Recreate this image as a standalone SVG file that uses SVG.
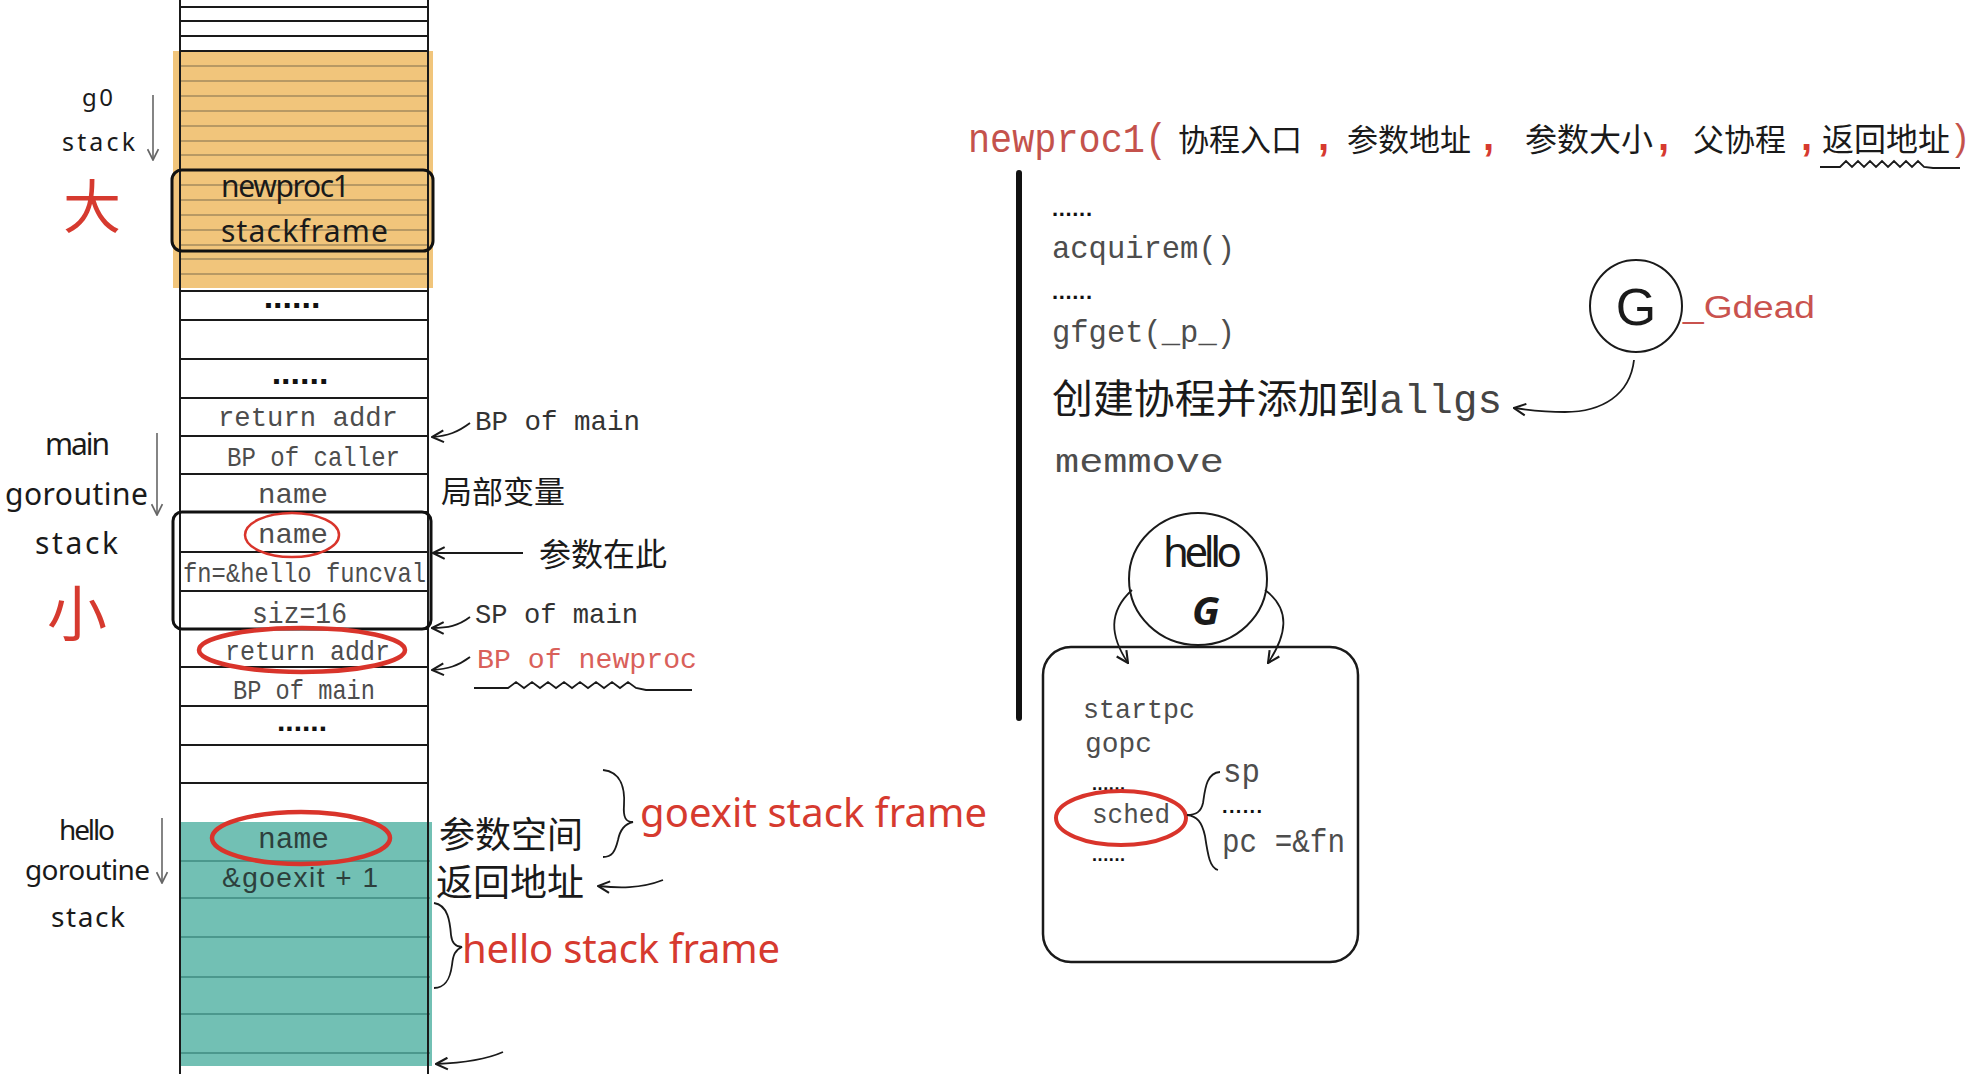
<svg xmlns="http://www.w3.org/2000/svg" width="1982" height="1074" viewBox="0 0 1982 1074">
<style>
.hand{font-family:'Noto Sans','DejaVu Sans',sans-serif;fill:#1a1a1a}
.mono{font-family:'Liberation Mono','DejaVu Sans Mono',monospace;fill:#4d4d4d}
.cjk{font-family:'Noto Sans CJK SC','Noto Sans CJK TC',sans-serif;fill:#1a1a1a}
.red{fill:#d63a2f}
.dots{font-family:'Liberation Sans',sans-serif;font-weight:bold;fill:#111}
.ln{stroke:#1a1a1a;fill:none;stroke-width:2}
.oln{stroke:#7f6e4f;stroke-width:1.2}
.tln{stroke:#3f8b80;stroke-width:1.5}
.conn{stroke:#1a1a1a;fill:none;stroke-width:1.8}
.gray{stroke:#666;fill:none;stroke-width:1.6}
.ell{fill:none;stroke:#d9342b}
.frame{fill:none;stroke:#111;stroke-width:3}
</style>
<defs>
<marker id="ah" viewBox="0 0 12 12" refX="11" refY="6" markerWidth="14" markerHeight="14" markerUnits="userSpaceOnUse" orient="auto"><path d="M1,1 L11,6 L1,11" fill="none" stroke="#1a1a1a" stroke-width="1.8"/></marker>
<marker id="ahg" viewBox="0 0 12 12" refX="11" refY="6" markerWidth="13" markerHeight="13" markerUnits="userSpaceOnUse" orient="auto"><path d="M1,1 L11,6 L1,11" fill="none" stroke="#666" stroke-width="1.6"/></marker>
</defs>
<rect width="1982" height="1074" fill="#fff"/>

<g id="stack-column">
<rect x="173" y="51" width="260" height="237" fill="#f1c57b"/>
<g class="oln">
<line x1="180" y1="66" x2="428" y2="66"/><line x1="180" y1="81" x2="428" y2="81"/><line x1="180" y1="96" x2="428" y2="96"/><line x1="180" y1="111" x2="428" y2="111"/><line x1="180" y1="126" x2="428" y2="126"/><line x1="180" y1="141" x2="428" y2="141"/><line x1="180" y1="155" x2="428" y2="155"/><line x1="180" y1="170" x2="428" y2="170"/><line x1="180" y1="185" x2="428" y2="185"/><line x1="180" y1="200" x2="428" y2="200"/><line x1="180" y1="215" x2="428" y2="215"/><line x1="180" y1="230" x2="428" y2="230"/><line x1="180" y1="245" x2="428" y2="245"/><line x1="180" y1="259" x2="428" y2="259"/><line x1="180" y1="274" x2="428" y2="274"/>
</g>
<rect x="180" y="822" width="252" height="244" fill="#72c0b4"/>
<g class="tln">
<line x1="180" y1="861" x2="430" y2="861"/><line x1="180" y1="898" x2="430" y2="898"/><line x1="180" y1="937" x2="430" y2="937"/><line x1="180" y1="977" x2="430" y2="977"/><line x1="180" y1="1014" x2="430" y2="1014"/><line x1="180" y1="1053" x2="430" y2="1053"/>
</g>
<g class="ln">
<line x1="180" y1="0" x2="180" y2="1074"/><line x1="428" y1="0" x2="428" y2="1074"/>
<line x1="180" y1="7" x2="428" y2="7"/><line x1="180" y1="21" x2="428" y2="21"/><line x1="180" y1="36" x2="428" y2="36"/><line x1="180" y1="51" x2="428" y2="51"/>
<line x1="180" y1="291" x2="428" y2="291"/><line x1="180" y1="320" x2="428" y2="320"/><line x1="180" y1="359" x2="428" y2="359"/><line x1="180" y1="398" x2="428" y2="398"/><line x1="180" y1="436" x2="428" y2="436"/><line x1="180" y1="474" x2="428" y2="474"/><line x1="180" y1="512" x2="428" y2="512"/><line x1="180" y1="552" x2="428" y2="552"/><line x1="180" y1="591" x2="428" y2="591"/><line x1="180" y1="629" x2="428" y2="629"/><line x1="180" y1="667" x2="428" y2="667"/><line x1="180" y1="706" x2="428" y2="706"/><line x1="180" y1="745" x2="428" y2="745"/><line x1="180" y1="783" x2="428" y2="783"/>
</g>
</g>

<g id="newproc1-frame">
<rect class="frame" x="172" y="170" width="261" height="81" rx="10"/>
<text class="hand" x="221" y="197" font-size="30" textLength="129">newproc1</text>
<text class="hand" x="221" y="242" font-size="30" textLength="167">stackframe</text>
</g>

<g id="g0-label">
<text class="hand" x="82" y="106" font-size="24" textLength="31">g0</text>
<text class="hand" x="62" y="151" font-size="25" textLength="73">stack</text>
<text class="cjk red" x="63" y="228" font-size="58">大</text>
</g>

<g id="main-rows">
<text class="dots" x="292" y="308" font-size="34" text-anchor="middle">......</text>
<text class="dots" x="300" y="384" font-size="34" text-anchor="middle">......</text>
<text class="mono" x="218" y="426" font-size="28" textLength="180" lengthAdjust="spacingAndGlyphs">return addr</text>
<text class="mono" x="227" y="466" font-size="28" textLength="173" lengthAdjust="spacingAndGlyphs">BP of caller</text>
<text class="mono" x="258" y="503" font-size="28" textLength="70" lengthAdjust="spacingAndGlyphs">name</text>
</g>

<g id="param-box">
<rect class="frame" x="173" y="512" width="258" height="117" rx="9"/>
<ellipse class="ell" cx="292" cy="535" rx="47" ry="22" stroke-width="2.5"/>
<text class="mono" x="258" y="543" font-size="28" textLength="70" lengthAdjust="spacingAndGlyphs">name</text>
<text class="mono" x="183" y="582" font-size="28" textLength="243" lengthAdjust="spacingAndGlyphs">fn=&amp;hello funcval</text>
<text class="mono" x="252" y="623" font-size="30" textLength="95" lengthAdjust="spacingAndGlyphs">siz=16</text>
</g>

<g id="lower-rows">
<ellipse class="ell" cx="302" cy="650" rx="103" ry="22" stroke-width="4.5"/>
<text class="mono" x="225" y="660" font-size="28" textLength="165" lengthAdjust="spacingAndGlyphs">return addr</text>
<text class="mono" x="233" y="699" font-size="28" textLength="142" lengthAdjust="spacingAndGlyphs">BP of main</text>
<text class="dots" x="302" y="731" font-size="30" text-anchor="middle">......</text>
</g>

<g id="main-label">
<text class="hand" x="45" y="455" font-size="30" textLength="65">main</text>
<text class="hand" x="5" y="505" font-size="30" textLength="143">goroutine</text>
<text class="hand" x="35" y="554" font-size="30" textLength="83">stack</text>
<text class="cjk red" x="47" y="636" font-size="60">小</text>
</g>

<g id="hello-stack">
<ellipse class="ell" cx="301" cy="838" rx="89" ry="26" stroke-width="4.5"/>
<text class="mono" x="258" y="848" font-size="30" textLength="71" lengthAdjust="spacingAndGlyphs" style="fill:#2d3f3c">name</text>
<text x="222" y="887" font-size="28" textLength="156" font-family="'Liberation Sans',sans-serif" fill="#2d3f3c">&amp;goexit + 1</text>
</g>

<g id="hello-label">
<text class="hand" x="59" y="840" font-size="28" textLength="56">hello</text>
<text class="hand" x="25" y="880" font-size="28" textLength="125">goroutine</text>
<text class="hand" x="51" y="927" font-size="28" textLength="74">stack</text>
</g>

<g id="right-labels">
<text class="mono" x="475" y="430" font-size="28" textLength="165" lengthAdjust="spacingAndGlyphs" style="fill:#333">BP of main</text>
<text class="cjk" x="441" y="503" font-size="31">局部变量</text>
<text class="cjk" x="539" y="566" font-size="32">参数在此</text>
<text class="mono" x="475" y="623" font-size="28" textLength="163" lengthAdjust="spacingAndGlyphs" style="fill:#333">SP of main</text>
<text class="mono" x="477" y="668" font-size="28" textLength="220" lengthAdjust="spacingAndGlyphs" style="fill:#d9605a">BP of newproc</text>
<path class="conn" stroke-width="2.5" d="M474,688 L508,688 L516,682 L524,688 L532,682 L540,688 L548,682 L556,688 L564,682 L572,688 L580,682 L588,688 L596,682 L604,688 L612,682 L620,688 L628,682 L636,688 L646,690 L692,690"/>
<text class="cjk" x="439" y="848" font-size="36">参数空间</text>
<text class="cjk" x="436" y="896" font-size="37">返回地址</text>
<text class="hand red" x="640" y="827" font-size="40" textLength="347">goexit stack frame</text>
<text class="hand red" x="462" y="963" font-size="40" textLength="318">hello stack frame</text>
</g>

<g id="header">
<text class="mono" x="968" y="152" font-size="40" textLength="199" lengthAdjust="spacingAndGlyphs" style="fill:#c4524c">newproc1(</text>
<text class="cjk" x="1178" y="151" font-size="31">协程入口</text>
<text class="red" x="1318" y="150" font-size="40" font-family="'Liberation Sans',sans-serif" font-weight="bold">,</text>
<text class="cjk" x="1347" y="151" font-size="31">参数地址</text>
<text class="red" x="1483" y="150" font-size="40" font-family="'Liberation Sans',sans-serif" font-weight="bold">,</text>
<text class="cjk" x="1525" y="151" font-size="32">参数大小</text>
<text class="red" x="1658" y="150" font-size="40" font-family="'Liberation Sans',sans-serif" font-weight="bold">,</text>
<text class="cjk" x="1693" y="151" font-size="31">父协程</text>
<text class="red" x="1801" y="150" font-size="40" font-family="'Liberation Sans',sans-serif" font-weight="bold">,</text>
<text class="cjk" x="1822" y="151" font-size="32">返回地址</text>
<text x="1955" y="150" font-size="36" font-family="'Liberation Sans',sans-serif" fill="#c4524c">)</text>
<path class="conn" stroke-width="2.2" d="M1820,167 L1840,167 L1846,161 L1852,167 L1858,161 L1864,167 L1870,161 L1876,167 L1882,161 L1888,167 L1894,161 L1900,167 L1906,161 L1912,167 L1918,161 L1924,167 L1933,168 L1960,168"/>
</g>

<g id="newproc1-body">
<line x1="1019" y1="173" x2="1019" y2="718" stroke="#111" stroke-width="6" stroke-linecap="round"/>
<text class="dots" x="1052" y="216" font-size="22" textLength="40">......</text>
<text class="mono" x="1052" y="258" font-size="32" textLength="183" lengthAdjust="spacingAndGlyphs">acquirem()</text>
<text class="dots" x="1052" y="299" font-size="22" textLength="40">......</text>
<text class="mono" x="1052" y="342" font-size="32" textLength="183" lengthAdjust="spacingAndGlyphs">gfget(_p_)</text>
<text class="cjk" x="1052" y="413" font-size="40" textLength="450" lengthAdjust="spacingAndGlyphs">创建协程并添加到<tspan font-family="'Liberation Mono',monospace" style="fill:#444">allgs</tspan></text>
<text class="mono" x="1055" y="472" font-size="34" textLength="169" lengthAdjust="spacingAndGlyphs">memmove</text>
</g>

<g id="g-dead">
<circle cx="1636" cy="306" r="46" fill="none" stroke="#1a1a1a" stroke-width="2"/>
<text x="1636" y="325" font-size="52" text-anchor="middle" font-family="'Liberation Sans',sans-serif" fill="#1a1a1a">G</text>
<text x="1683" y="318" font-size="31" textLength="132" lengthAdjust="spacingAndGlyphs" font-family="'Liberation Sans',sans-serif" fill="#c9524e">_Gdead</text>
</g>

<g id="hello-g">
<ellipse cx="1198" cy="579" rx="69" ry="66" fill="none" stroke="#1a1a1a" stroke-width="2"/>
<text class="hand" x="1163" y="567" font-size="42" textLength="79">hello</text>
<text class="hand" x="1192" y="625" font-size="40" font-style="italic" font-weight="bold">G</text>
</g>

<g id="g-struct">
<rect x="1043" y="647" width="315" height="315" rx="28" fill="none" stroke="#1a1a1a" stroke-width="2.5"/>
<text class="mono" x="1083" y="718" font-size="28" textLength="112" lengthAdjust="spacingAndGlyphs">startpc</text>
<text class="mono" x="1085" y="752" font-size="28" textLength="67" lengthAdjust="spacingAndGlyphs">gopc</text>
<text class="dots" x="1092" y="790" font-size="18" textLength="33">......</text>
<ellipse class="ell" cx="1121" cy="818" rx="65" ry="27" stroke-width="4"/>
<text class="mono" x="1092" y="823" font-size="28" textLength="78" lengthAdjust="spacingAndGlyphs">sched</text>
<text class="dots" x="1092" y="861" font-size="18" textLength="33">......</text>
<text class="mono" x="1223" y="782" font-size="34" textLength="37" lengthAdjust="spacingAndGlyphs">sp</text>
<text class="dots" x="1222" y="813" font-size="20" textLength="40">......</text>
<text class="mono" x="1222" y="852" font-size="34" textLength="123" lengthAdjust="spacingAndGlyphs">pc =&amp;fn</text>
</g>

<g id="connectors">
<line class="gray" x1="153" y1="95" x2="153" y2="160" marker-end="url(#ahg)"/>
<line class="gray" x1="157" y1="433" x2="157" y2="515" marker-end="url(#ahg)"/>
<line class="gray" x1="162" y1="818" x2="162" y2="883" marker-end="url(#ahg)"/>
<path class="conn" d="M470,423 C458,432 448,436 432,437" marker-end="url(#ah)"/>
<path class="conn" d="M523,553 L433,553" marker-end="url(#ah)"/>
<path class="conn" d="M470,617 C458,626 448,628 432,628" marker-end="url(#ah)"/>
<path class="conn" d="M470,657 C458,666 448,669 432,670" marker-end="url(#ah)"/>
<path class="conn" d="M663,880 C640,889 618,888 598,886" marker-end="url(#ah)"/>
<path class="conn" d="M503,1052 C485,1060 462,1063 436,1064" marker-end="url(#ah)"/>
<path class="conn" d="M1634,360 C1630,395 1602,412 1565,412 C1545,412 1528,410 1514,408" marker-end="url(#ah)"/>
<path class="conn" d="M1132,590 C1108,612 1110,636 1128,663" marker-end="url(#ah)"/>
<path class="conn" d="M1265,590 C1292,610 1286,636 1268,663" marker-end="url(#ah)"/>
<path class="conn" d="M603,770 C622,772 625,790 624,805 C623,818 626,822 633,822 C624,824 620,830 618,840 C615,852 612,857 603,857"/>
<path class="conn" d="M434,903 C448,905 450,922 451,935 C452,944 456,947 462,947 C455,950 453,955 452,965 C450,980 445,988 434,988"/>
<path class="conn" d="M1220,772 C1206,773 1205,790 1203,803 C1201,812 1196,815 1187,815 C1197,816 1202,822 1205,836 C1208,856 1210,868 1218,870"/>
</g>
</svg>
